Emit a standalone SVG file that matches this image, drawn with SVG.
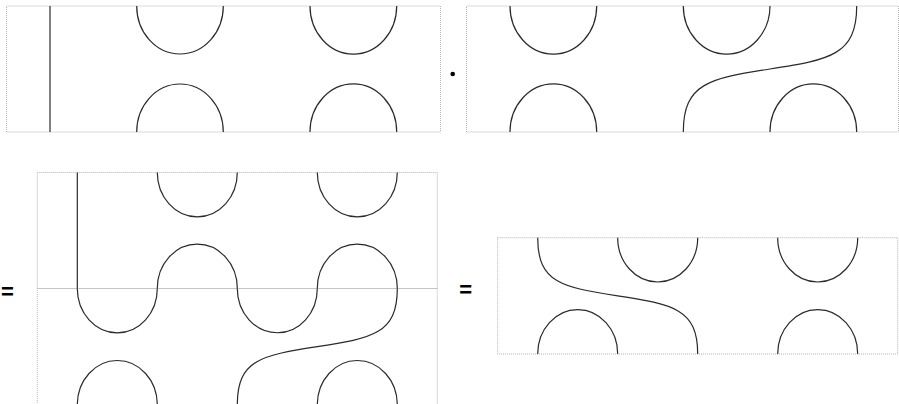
<svg xmlns="http://www.w3.org/2000/svg" width="899" height="404" viewBox="0 0 899 404">
<style>
.frame{fill:none;stroke:#b4b4b4;stroke-width:1;stroke-dasharray:1,1}
.s{fill:none;stroke:#2a2a2a;stroke-width:1.2}
.op{font-family:"Liberation Sans",Arial,sans-serif;font-weight:bold;font-size:22px;fill:#000;text-anchor:middle}
</style>
<rect width="899" height="404" fill="#fff"/>
<g id="panel1">
<rect class="frame" x="6.5" y="6" width="434" height="126"/>
<line class="s" x1="50" y1="6" x2="50" y2="132"/>
<path class="s" d="M136.7,6 A43.3,48 0 0 0 223.3,6 M310,6 A43.3,48 0 0 0 396.7,6"/>
<path class="s" d="M136.7,132 A43.3,48 0 0 1 223.3,132 M310,132 A43.3,48 0 0 1 396.7,132"/>
</g>
<g id="dot"><circle cx="452.7" cy="74" r="2.3" fill="#000"/></g>
<g id="panel2">
<rect class="frame" x="466.5" y="6" width="432" height="126"/>
<path class="s" d="M510,6 A43.3,48 0 0 0 596.7,6 M683.3,6 A43.3,48 0 0 0 770,6"/>
<path class="s" d="M510,132 A43.3,48 0 0 1 596.7,132 M770,132 A43.3,48 0 0 1 856.7,132"/>
<path class="s" d="M856.7,6 C856.7,55 830,59.7 770,69 S683.3,83 683.3,132"/>
</g>
<g id="eq1"><text class="op" x="7.5" y="299">=</text></g>
<g id="panel3">
<rect class="frame" x="37.3" y="172.5" width="400" height="116"/>
<rect class="frame" x="37.3" y="288.5" width="400" height="116.3"/>
<line class="s" x1="77.3" y1="172.5" x2="77.3" y2="288.5"/>
<path class="s" d="M157.3,172.5 A40,44.3 0 0 0 237.3,172.5 M317.3,172.5 A40,44.3 0 0 0 397.3,172.5"/>
<path class="s" d="M157.3,288.5 A40,44.3 0 0 1 237.3,288.5 M317.3,288.5 A40,44.3 0 0 1 397.3,288.5"/>
<path class="s" d="M77.3,288.5 A40,44.3 0 0 0 157.3,288.5 M237.3,288.5 A40,44.3 0 0 0 317.3,288.5"/>
<path class="s" d="M397.3,288.5 C397.3,333.7 372.7,338.1 317.3,346.65 S237.3,359.6 237.3,404.8"/>
<path class="s" d="M77.3,404.8 A40,44.3 0 0 1 157.3,404.8 M317.3,404.8 A40,44.3 0 0 1 397.3,404.8"/>
</g>
<g id="eq2"><text class="op" x="465.7" y="297">=</text></g>
<g id="panel4">
<rect class="frame" x="497.7" y="237.7" width="400" height="116.3"/>
<path class="s" d="M537.7,237.7 C537.7,282.9 562.3,287.3 617.7,295.85 S697.7,308.8 697.7,354"/>
<path class="s" d="M617.7,237.7 A40,44.3 0 0 0 697.7,237.7 M777.7,237.7 A40,44.3 0 0 0 857.7,237.7"/>
<path class="s" d="M537.7,354 A40,44.3 0 0 1 617.7,354 M777.7,354 A40,44.3 0 0 1 857.7,354"/>
</g>
</svg>
